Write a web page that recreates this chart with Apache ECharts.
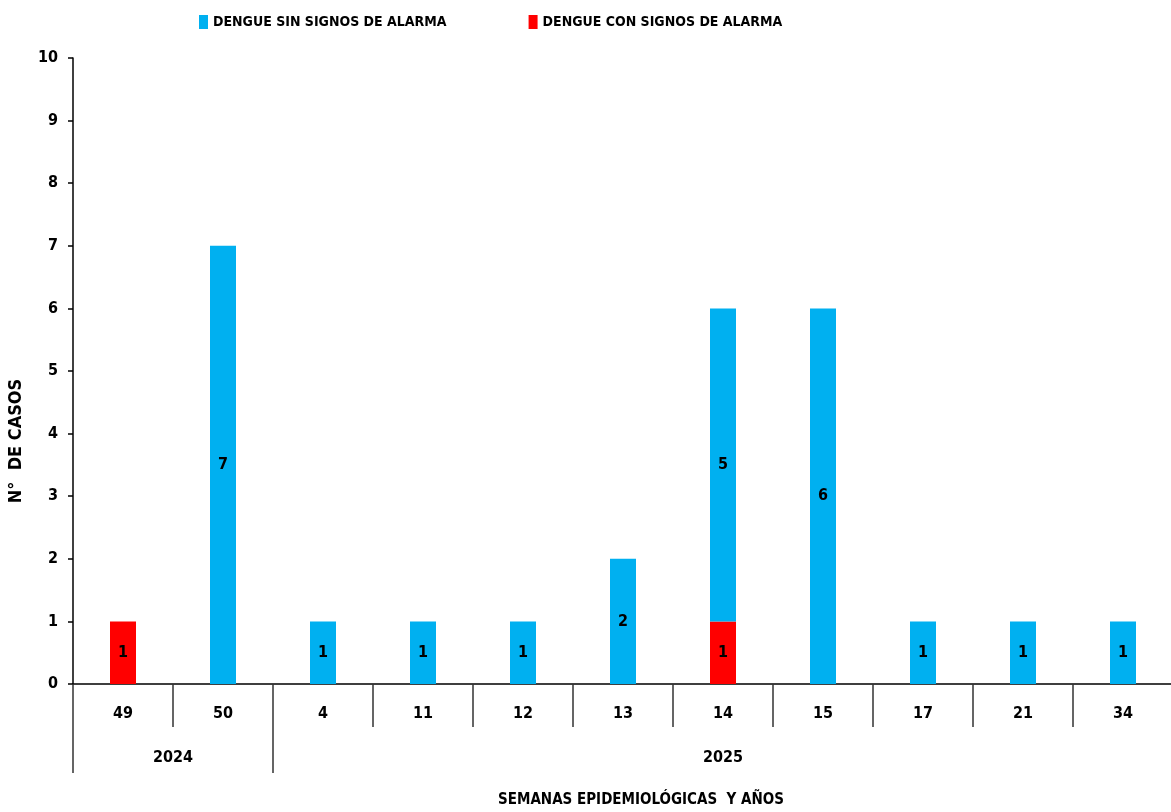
<!DOCTYPE html>
<html>
<head>
<meta charset="utf-8">
<script src="https://cdn.jsdelivr.net/npm/echarts@6/dist/echarts.min.js"></script>
<style>
  html, body { margin: 0; padding: 0; background: #fff; }
  #container { width: 1171px; height: 812px; }
</style>
</head>
<body>
<div id="container"></div>
<script>
var semanas = ['49', '50', '4', '11', '12', '13', '14', '15', '17', '21', '34'];
var sinSignos = [null, 7, 1, 1, 1, 2, 5, 6, 1, 1, 1];
var conSignos = [1, null, null, null, null, null, 1, null, null, null, null];
// years: label value on the 0..11 scale, and boundaries (category index)
var anios = { 1: '2024', 6.5: '2025' };
var limitesAnio = [0, 2];

var FONT = '"DejaVu Sans Condensed", "Liberation Sans Narrow", sans-serif';
var txt = { color: '#000', fontWeight: 'bold', fontFamily: FONT, fontSize: 15 };

var myChart = echarts.init(document.getElementById('container'));
var option = {
    animation: false,
    legend: {
        top: 10,
        left: 194,
        itemWidth: 9,
        itemHeight: 14,
        itemGap: 82,
        icon: 'rect',
        textStyle: Object.assign({}, txt, { fontSize: 14 }),
        data: ['DENGUE SIN SIGNOS DE ALARMA', 'DENGUE CON SIGNOS DE ALARMA']
    },
    grid: { left: 73, right: -2, top: 58, bottom: 128, containLabel: false, outerBoundsMode: 'none' },
    xAxis: [{
        type: 'category',
        data: semanas,
        position: 'bottom',
        axisLine: { lineStyle: { color: '#000', width: 1.5 } },
        axisTick: { show: true, length: 43, interval: 0, lineStyle: { color: '#333', width: 1.5 } },
        axisLabel: Object.assign({ interval: 0, margin: 22 }, txt, { fontSize: 16 }),
        splitLine: { show: false }
    }, {
        type: 'category',
        data: semanas,
        position: 'bottom',
        axisLine: { show: false },
        axisTick: {
            show: true, length: 89,
            interval: function (index) { return limitesAnio.indexOf(index) >= 0; },
            lineStyle: { color: '#333', width: 1.5 }
        },
        axisLabel: { show: false },
        splitLine: { show: false }
    }, {
        type: 'value',
        min: 0,
        max: 11,
        interval: 0.5,
        position: 'bottom',
        axisLine: { show: false },
        axisTick: { show: false },
        splitLine: { show: false },
        axisLabel: Object.assign({
            margin: 66,
            showMinLabel: true,
            showMaxLabel: true,
            formatter: function (v) { return anios[v] || ''; }
        }, txt, { fontSize: 16 }),
        name: 'SEMANAS EPIDEMIOLÓGICAS  Y AÑOS',
        nameLocation: 'middle',
        nameGap: 109,
        nameTextStyle: Object.assign({}, txt, { fontSize: 15, padding: [0, 0, 0, 36] })
    }],
    yAxis: {
        type: 'value',
        min: 0,
        max: 10,
        interval: 1,
        name: 'N°  DE CASOS',
        nameLocation: 'middle',
        nameGap: 48,
        nameRotate: 90,
        nameTextStyle: Object.assign({}, txt, { fontSize: 18, padding: [0, 140, 0, 0] }),
        axisLine: { show: true, lineStyle: { color: '#000', width: 1.5 } },
        axisTick: { show: true, length: 5, lineStyle: { color: '#000', width: 1.5 } },
        axisLabel: Object.assign({ margin: 15 }, txt, { fontSize: 16 }),
        splitLine: { show: false }
    },
    series: [{
        name: 'DENGUE CON SIGNOS DE ALARMA',
        type: 'bar',
        stack: 'casos',
        barWidth: 26,
        itemStyle: { color: '#FF0000' },
        label: Object.assign({ show: true, position: 'inside' }, txt, { fontSize: 16 }),
        data: conSignos
    }, {
        name: 'DENGUE SIN SIGNOS DE ALARMA',
        type: 'bar',
        stack: 'casos',
        barWidth: 26,
        itemStyle: { color: '#00B0F0' },
        label: Object.assign({ show: true, position: 'inside' }, txt, { fontSize: 16 }),
        data: sinSignos
    }]
};
myChart.setOption(option, { notMerge: true });
</script>
</body>
</html>
